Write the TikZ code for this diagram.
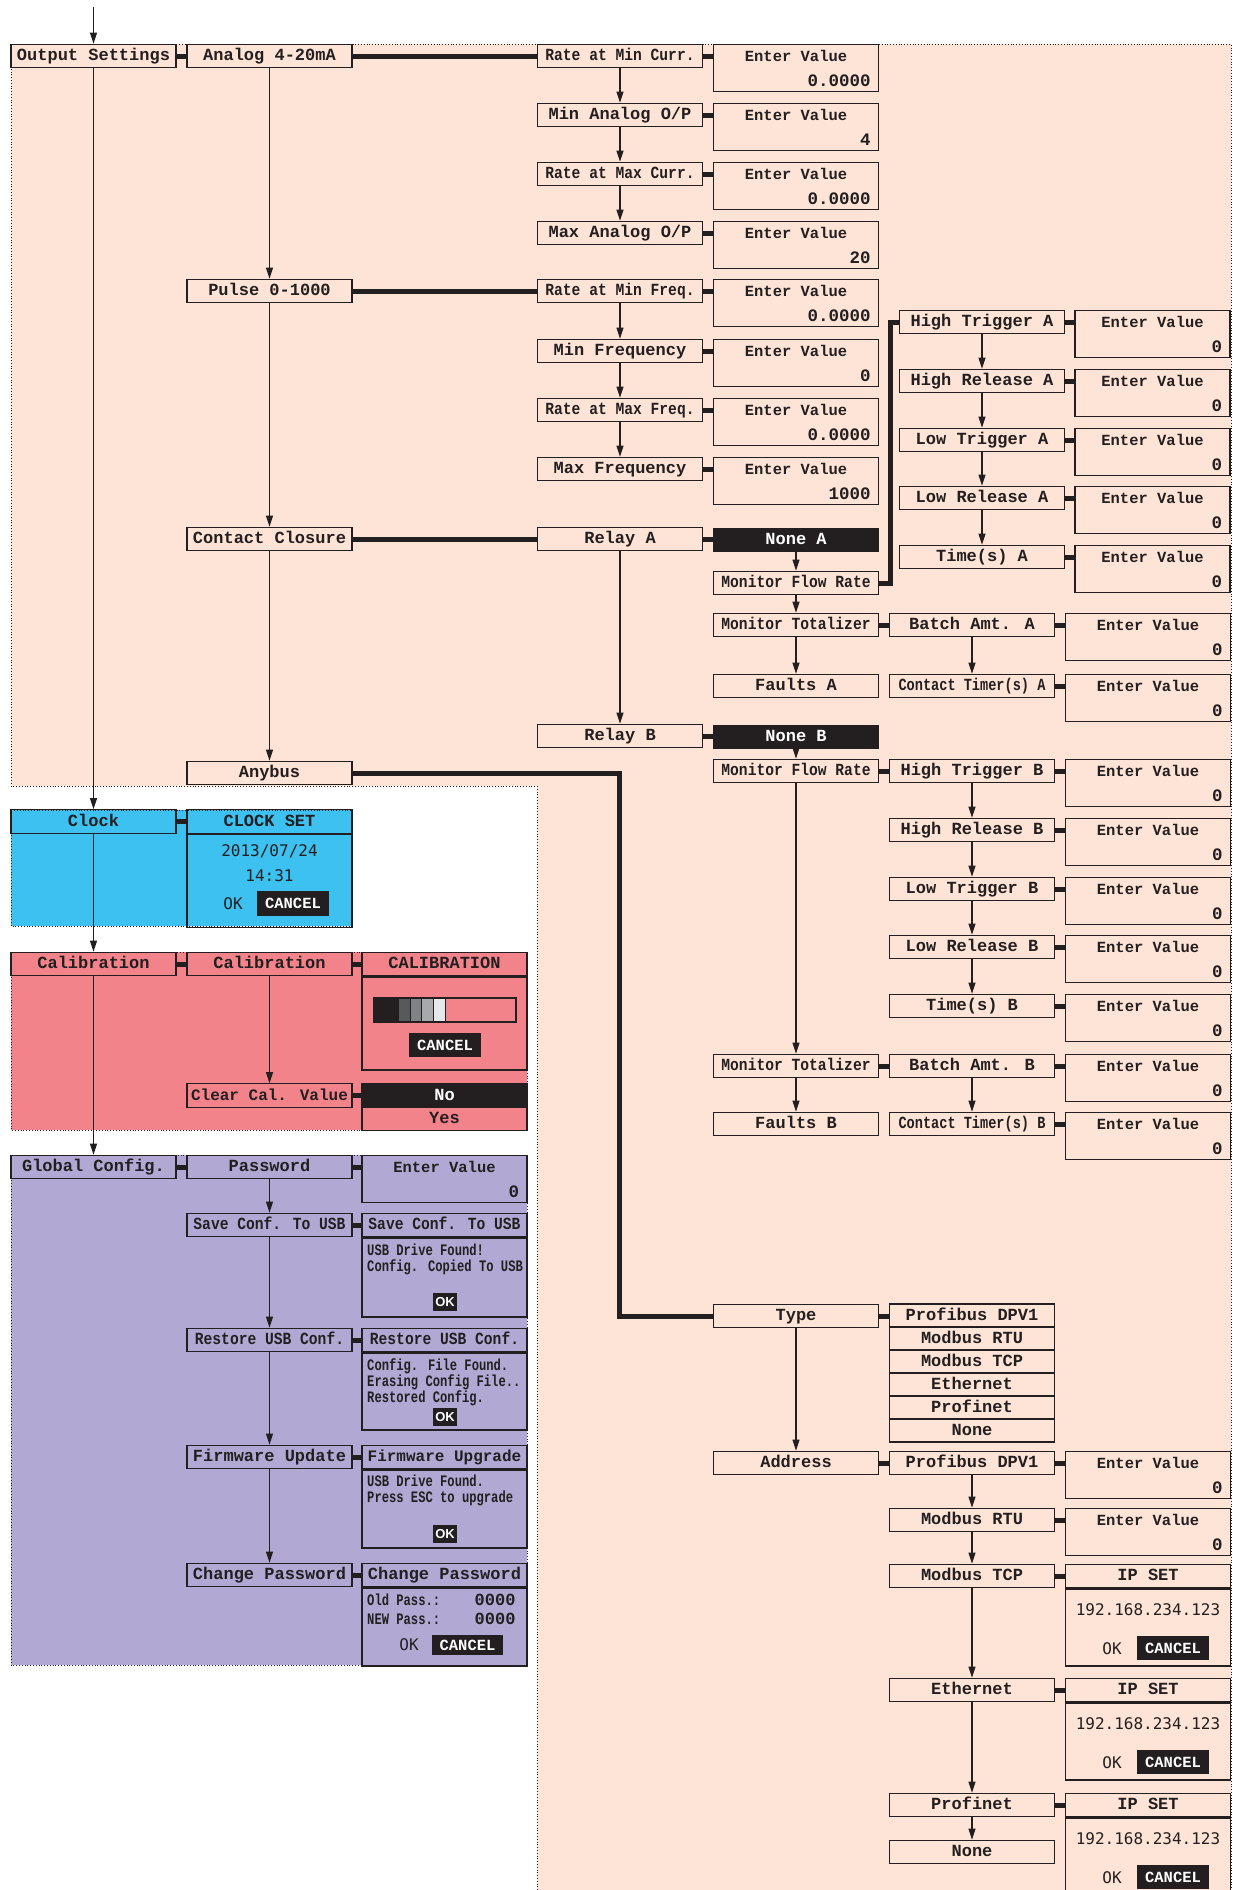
\documentclass[tikz,border=0pt]{standalone}
\usepackage{fontspec}
\usepackage{tikz}
\usetikzlibrary{arrows.meta,positioning,calc}
\newfontfamily\menufam{Liberation Mono}
\newfontfamily\narrowfam[FakeStretch=0.86]{Liberation Mono}
\newfontfamily\tightfam[FakeStretch=0.8]{Liberation Mono}
\newfontfamily\msgfam[FakeStretch=0.76]{Liberation Mono}
\newfontfamily\lcdfam{DejaVu Sans Mono}
\newfontfamily\keyfam{Liberation Sans}
\definecolor{ink}{HTML}{231F20}
\definecolor{peach}{HTML}{FDE4D6}
\definecolor{clockblue}{HTML}{3DC1F0}
\definecolor{calred}{HTML}{F2838A}
\definecolor{cfgpurple}{HTML}{B1A9D3}
\definecolor{barA}{HTML}{58595B}
\definecolor{barB}{HTML}{808285}
\definecolor{barC}{HTML}{A7A9AC}
\definecolor{barD}{HTML}{E6E7E8}
\newcommand{\menufont}{\menufam\bfseries\fontsize{17}{19}\selectfont}
\newcommand{\midfont}{\menufam\bfseries\fontsize{16}{18}\selectfont}
\newcommand{\narrowfont}{\narrowfam\bfseries\fontsize{17}{19}\selectfont}
\newcommand{\tightfont}{\tightfam\bfseries\fontsize{17}{19}\selectfont}
\newcommand{\promptfont}{\menufam\bfseries\fontsize{15.5}{17}\selectfont}
\newcommand{\numfont}{\menufam\bfseries\fontsize{17.5}{19}\selectfont}
\newcommand{\msgfont}{\msgfam\bfseries\fontsize{16}{16}\selectfont}
\newcommand{\lcdfont}{\lcdfam\fontsize{16}{18}\selectfont}
\newcommand{\keyfont}{\menufam\bfseries\fontsize{15.5}{17}\selectfont}
\newcommand{\okfont}{\keyfam\bfseries\fontsize{13}{15}\selectfont}
\newcommand{\valpanel}[5]{%
  \node[panel,minimum width=#4pt,minimum height=47pt,anchor=north] (#1) at (#2,#3) {};
  \node[font=\promptfont] (#1t) at ([yshift=-12pt]#1.north) {Enter Value};
  \node[font=\numfont,anchor=east] (#1v) at ([xshift=-5pt,yshift=11pt]#1.south east) {#5};}
\newcommand{\ippanel}[3]{%
  \node[box] (#1) at (#2,#3+11.5) {IP SET};
  \node[panel,minimum height=77pt,anchor=north] (#1b) at (#1.south) {};
  \node[font=\lcdfont] (#1ip) at ([yshift=-21pt]#1.south) {192.168.234.123};
  \node[font=\lcdfont] (#1ok) at ([xshift=-36pt,yshift=-60pt]#1.south) {OK};
  \node[key,minimum width=72pt,minimum height=24pt] (#1no) at ([xshift=25pt,yshift=-60pt]#1.south) {CANCEL};}

\begin{document}
\begin{tikzpicture}[x=1pt,y=-1pt,>={Triangle[length=11pt,width=7pt]},
  every node/.append style={text=ink},
  box/.style={draw=ink,line width=1.2pt,minimum width=165pt,minimum height=23.5pt,inner sep=0pt,
    text height=11pt,text depth=2pt,font=\menufont},
  mbox/.style={box,font=\midfont},
  nbox/.style={box,font=\narrowfont},
  tbox/.style={box,font=\tightfont},
  dark/.style={box,fill=ink,text=white},
  panel/.style={draw=ink,line width=1.2pt,minimum width=165pt,inner sep=0pt},
  key/.style={fill=ink,text=white,font=\keyfont,inner sep=0pt},
  okkey/.style={key,font=\okfont,minimum width=24pt,minimum height=18pt},
  msg/.style={font=\msgfont,align=left,inner sep=0pt},
  zone/.style={draw=ink,dotted,line width=0.8pt},
  link/.style={draw=ink,line width=5pt},
  flow/.style={->,draw=ink,line width=1.2pt}]
  \useasboundingbox (0,0) rectangle (1238,1890);
  \filldraw[zone,fill=peach] (11,44) -- (1231,44) -- (1231,1900) -- (537,1900) -- (537,786) -- (11,786) -- cycle;
  \filldraw[zone,fill=clockblue] (11,810) rectangle (352,926);
  \filldraw[zone,fill=calred] (11,952) rectangle (527,1130);
  \filldraw[zone,fill=cfgpurple] (11,1155) rectangle (527,1665);

  \coordinate (entry) at (93.5,7);
  \foreach \n/\t/\y in {outset/Output Settings/56, clock/Clock/821.5, calib/Calibration/964, gconf/Global Config./1167}
    \node[box] (\n) at (93.5,\y) {\t};
  \foreach \n/\t/\y/\s in {analog/Analog 4-20mA/56/box, pulse/Pulse 0-1000/291/box, contact/Contact Closure/539/box,
      anybus/Anybus/773/box, clkset/CLOCK SET/821.5/box, calset/Calibration/964/box, clrcal/Clear Cal. Value/1095.5/mbox,
      passwd/Password/1167/box, savecf/Save Conf. To USB/1225/nbox, restcf/Restore USB Conf./1340/nbox,
      fwupd/Firmware Update/1457/box, chpass/Change Password/1575/box}
    \node[\s] (\n) at (269.5,\y) {\t};

  \node[panel,minimum height=93pt,anchor=north] (clkbody) at (clkset.south) {};
  \node[font=\lcdfont] (clkdate) at (269.5,851) {2013/07/24};
  \node[font=\lcdfont] (clktime) at (269.5,876) {14:31};
  \node[font=\lcdfont] (clkok) at (233,903.5) {OK};
  \node[key,minimum width=72pt,minimum height=25pt] (clkno) at (293,903.5) {CANCEL};

  \node[box] (calhead) at (444.5,964) {CALIBRATION};
  \node[panel,minimum height=93pt,anchor=north] (calbody) at (calhead.south) {};
  \foreach \c/\a/\b in {ink/374/398, barA/398/410, barB/410/421.5, barC/421.5/433, barD/433/445}
    \filldraw[fill=\c,draw=ink,line width=0.8pt] (\a,998) rectangle (\b,1022);
  \draw[ink,line width=1.2pt] (374,998) rectangle (516,1022);
  \node[key,minimum width=72pt,minimum height=24pt] (calno) at (445,1045) {CANCEL};
  \node[dark] (clrno) at (444.5,1095.5) {No};
  \node[box] (clryes) at (444.5,1118.5) {Yes};

  \valpanel{pwval}{444.5}{1155}{165}{0}
  \foreach \n/\t/\y/\h/\s in {savehd/Save Conf. To USB/1225/79/nbox, resthd/Restore USB Conf./1340/77/nbox,
      fwhd/Firmware Upgrade/1457/78/mbox, chhd/Change Password/1575/78/box}{
    \node[\s] (\n) at (444.5,\y) {\t};
    \node[panel,minimum height=\h pt,anchor=north] (\n b) at (\n.south) {};
  }
  \node[msg,anchor=west] (savemsg) at (367,1259) {USB Drive Found!\\Config. Copied To USB};
  \node[okkey] (saveok) at (445,1302) {OK};
  \node[msg,anchor=west] (restmsg) at (367,1382) {Config. File Found.\\Erasing Config File..\\Restored Config.};
  \node[okkey] (restok) at (445,1417) {OK};
  \node[msg,anchor=west] (fwmsg) at (367,1490) {USB Drive Found.\\Press ESC to upgrade};
  \node[okkey] (fwok) at (445,1534) {OK};
  \node[msg,anchor=west] (oldpw) at (367,1600) {Old Pass.:};
  \node[font=\menufont,anchor=east] (oldnum) at (519,1600) {0000};
  \node[msg,anchor=west] (newpw) at (367,1619) {NEW Pass.:};
  \node[font=\menufont,anchor=east] (newnum) at (519,1619) {0000};
  \node[font=\lcdfont] (chok) at (409,1645) {OK};
  \node[key,minimum width=71pt,minimum height=20pt] (chno) at (467.5,1645) {CANCEL};

  \foreach \n/\t/\y/\v/\s in {rmincur/Rate at Min Curr./56/0.0000/nbox, minaop/{Min Analog O/P}/115/4/box,
      rmaxcur/Rate at Max Curr./174/0.0000/nbox, maxaop/{Max Analog O/P}/233/20/box,
      rminfrq/Rate at Min Freq./291/0.0000/nbox, minfrq/Min Frequency/351/0/box,
      rmaxfrq/Rate at Max Freq./410/0.0000/nbox, maxfrq/Max Frequency/469/1000/box}{
    \node[\s] (\n) at (620,\y) {\t};
    \valpanel{v\n}{796}{\y-12}{165}{\v}
    \draw[link] (\n.east) -- (\n.east -| v\n.west);
  }
  \node[box] (relayA) at (620,539) {Relay A};
  \node[box] (relayB) at (620,736) {Relay B};
  \node[dark] (noneA) at (796,540) {None A};
  \node[dark] (noneB) at (796,737) {None B};
  \foreach \n/\t/\y in {mfrA/Monitor Flow Rate/583, mtotA/Monitor Totalizer/625, mfrB/Monitor Flow Rate/771, mtotB/Monitor Totalizer/1066}
    \node[nbox] (\n) at (796,\y) {\t};
  \foreach \n/\t/\y in {faultA/Faults A/686, faultB/Faults B/1124, type/Type/1316, address/Address/1463}
    \node[box] (\n) at (796,\y) {\t};

  \foreach \n/\t/\y in {htA/High Trigger A/322, hrA/High Release A/381, ltA/Low Trigger A/440, lrA/Low Release A/498, tmA/Time(s) A/557}{
    \node[box] (\n) at (982,\y) {\t};
    \valpanel{v\n}{1152.5}{\y-12}{155}{0}
    \draw[link] (\n.east) -- (\n.east -| v\n.west);
  }
  \foreach \n/\t/\y/\s in {batA/Batch Amt. A/625/box, ctA/Contact Timer(s) A/686/tbox, htB/High Trigger B/771/box,
      hrB/High Release B/830/box, ltB/Low Trigger B/889/box, lrB/Low Release B/947/box, tmB/Time(s) B/1006/box,
      batB/Batch Amt. B/1066/box, ctB/Contact Timer(s) B/1124/tbox, pdpA/Profibus DPV1/1463/box, mrtuA/Modbus RTU/1520/box}{
    \node[\s] (\n) at (972,\y) {\t};
    \valpanel{v\n}{1148}{\y-12}{165}{0}
    \draw[link] (\n.east) -- (\n.east -| v\n.west);
  }
  \foreach \n/\t/\y in {mtcpA/Modbus TCP/1576, ethA/Ethernet/1690, pnetA/Profinet/1805}{
    \node[box] (\n) at (972,\y) {\t};
    \ippanel{ip\n}{1148}{\y-11.5}
    \draw[link] (\n.east) -- (ip\n.west);
  }
  \node[box] (noneN) at (972,1852) {None};
  \foreach \n/\t [count=\i from 0] in {tpdp/Profibus DPV1, trtu/Modbus RTU, ttcp/Modbus TCP, teth/Ethernet, tpnet/Profinet, tnone/None}
    \node[box,minimum height=23pt] (\n) at (972,1315.5+23*\i) {\t};

  \draw[flow] (entry) -- (outset);
  \foreach \a/\b in {outset/clock, clock/calib, calib/gconf, analog/pulse, pulse/contact, contact/anybus, calset/clrcal,
      passwd/savecf, savecf/restcf, restcf/fwupd, fwupd/chpass, rmincur/minaop, minaop/rmaxcur, rmaxcur/maxaop,
      rminfrq/minfrq, minfrq/rmaxfrq, rmaxfrq/maxfrq, relayA/relayB, noneA/mfrA, mfrA/mtotA, mtotA/faultA, batA/ctA,
      htA/hrA, hrA/ltA, ltA/lrA, lrA/tmA, noneB/mfrB, mfrB/mtotB, mtotB/faultB, htB/hrB, hrB/ltB, ltB/lrB, lrB/tmB,
      batB/ctB, type/address, pdpA/mrtuA, mrtuA/mtcpA, mtcpA/ethA, ethA/pnetA, pnetA/noneN}
    \draw[flow] (\a) -- (\b);
  \foreach \a/\b in {outset/analog, analog/rmincur, pulse/rminfrq, contact/relayA, relayA/noneA, relayB/noneB,
      mtotA/batA, mfrB/htB, mtotB/batB, clock/clkset, calib/calset, calset/calhead, clrcal/clrno, gconf/passwd,
      passwd/pwval, savecf/savehd, restcf/resthd, fwupd/fwhd, chpass/chhd, type/tpdp, address/pdpA}
    \draw[link] (\a.east) -- (\a.east -| \b.west);
  \draw[link] (mfrA.east) -- ++(11,0) |- (htA.west);
  \coordinate (anybend) at (619,773);
  \draw[link] (anybus.east) -- (anybend) |- (type.west);
\end{tikzpicture}
\end{document}
